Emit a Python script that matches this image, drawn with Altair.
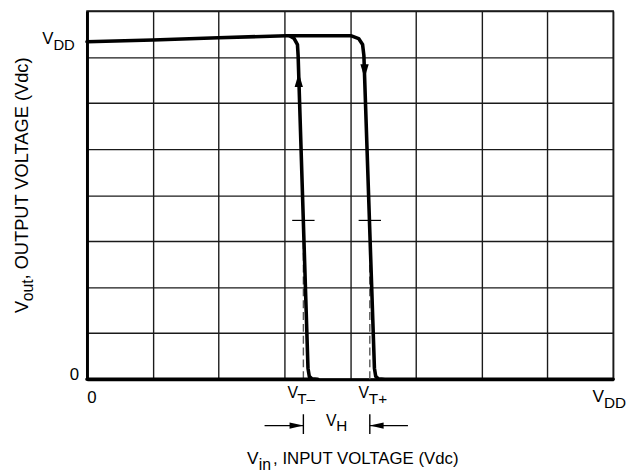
import altair as alt
import pandas as pd

FONT = "Liberation Sans, Arial, Helvetica, sans-serif"

# grid lines (both axes are in "grid units", 8 divisions each)
grid_vals = [0, 1, 2, 3, 4, 5, 6, 7, 8]

# threshold voltages (x, grid units) and the level of the little cross marks (y)
VT_MINUS = 3.29
VT_PLUS = 4.30
MARK_LEVEL = 3.45
MARK_HALF = 0.17

# output-high branch (Vin rising): stays at VDD, drops at VT+, then stays at 0
high_u = [0.0, 1.0, 2.0, 3.03, 4.02, 4.13, 4.19, 4.21, 4.37, 4.39, 4.43, 4.53, 8.0]
high_v = [7.33, 7.37, 7.42, 7.46, 7.46, 7.40, 7.27, 7.03, 0.24, 0.06, 0.01, 0.0, 0.0]

# output-low branch (Vin falling): stays at 0, rises at VT-, joins VDD
rise_u = [0.0, 3.51, 3.42, 3.38, 3.36, 3.21, 3.20, 3.15, 3.08]
rise_v = [0.0, 0.0, 0.01, 0.06, 0.24, 7.03, 7.27, 7.40, 7.46]

# arrowheads on the curve
arrow_up = {"u": [3.22], "v": [6.65]}
arrow_down = {"u": [4.22], "v": [6.54]}

# hysteresis dimension arrows below the axis (x start of each arrow line)
hyst_left_start = 2.70
hyst_right_start = 4.88

XS = alt.Scale(domain=[0, 8], nice=False, zero=False)
YS = alt.Scale(domain=[0, 8], nice=False, zero=False)
X_AX = alt.Axis(values=grid_vals, labels=False, ticks=False, title=None, grid=True,
                gridColor="#1a1a1a", gridWidth=1.4, gridOpacity=1,
                domainColor="black", domainWidth=3)
Y_AX = alt.Axis(values=grid_vals, labels=False, ticks=False, title=None, grid=True,
                gridColor="#1a1a1a", gridWidth=1.4, gridOpacity=1,
                domainColor="black", domainWidth=3)


def X(f="u"):
    return alt.X(f"{f}:Q", scale=XS, axis=X_AX)


def Y(f="v"):
    return alt.Y(f"{f}:Q", scale=YS, axis=Y_AX)


high_df = pd.DataFrame({"u": high_u, "v": high_v, "o": list(range(len(high_u)))})
rise_df = pd.DataFrame({"u": rise_u, "v": rise_v, "o": list(range(len(rise_u)))})

line_high = alt.Chart(high_df).mark_line(color="black", strokeWidth=3.6, strokeJoin="round",
                                         strokeCap="round").encode(x=X(), y=Y(), order="o:Q")
line_rise = alt.Chart(rise_df).mark_line(color="black", strokeWidth=3.6, strokeJoin="round",
                                         strokeCap="round").encode(x=X(), y=Y(), order="o:Q")

up_head = alt.Chart(pd.DataFrame(arrow_up)).mark_point(
    shape="M0,0L-0.3,1L0.3,1Z", size=784, filled=True, color="black", opacity=1, strokeWidth=0
).encode(x=X(), y=Y())
down_head = alt.Chart(pd.DataFrame(arrow_down)).mark_point(
    shape="M0,0L-0.3,-1L0.3,-1Z", size=784, filled=True, color="black", opacity=1, strokeWidth=0
).encode(x=X(), y=Y())

vt_df = pd.DataFrame({"u": [VT_MINUS, VT_PLUS], "v": [0.0, 0.0], "v2": [MARK_LEVEL, MARK_LEVEL],
                      "ul": [VT_MINUS - MARK_HALF, VT_PLUS - MARK_HALF],
                      "ur": [VT_MINUS + MARK_HALF, VT_PLUS + MARK_HALF]})
dashed = alt.Chart(vt_df).mark_rule(color="#555", strokeWidth=1.4, strokeDash=[8, 4]).encode(
    x=X(), y=Y(), y2="v2:Q")
marks = alt.Chart(vt_df).mark_rule(color="black", strokeWidth=1.2).encode(
    x=X("ul"), x2="ur:Q", y=Y("v2"))

# hysteresis dimension below axis (pixel rows relative to plot area)
bars = alt.Chart(vt_df).mark_rule(color="black", strokeWidth=1.4).encode(
    x=X(), y=alt.value(408.5), y2=alt.value(428.5))
hy_df = pd.DataFrame({"u": [hyst_left_start, hyst_right_start], "u2": [VT_MINUS, VT_PLUS]})
hy_lines = alt.Chart(hy_df).mark_rule(color="black", strokeWidth=1.4).encode(
    x=X(), x2="u2:Q", y=alt.value(420))
hy_head_r = alt.Chart(pd.DataFrame({"u": [VT_MINUS]})).mark_point(
    shape="M0,0L-2,-0.45L-2,0.45Z", size=196, filled=True, color="black", opacity=1, strokeWidth=0
).encode(x=X(), y=alt.value(420))
hy_head_l = alt.Chart(pd.DataFrame({"u": [VT_PLUS]})).mark_point(
    shape="M0,0L2,-0.45L2,0.45Z", size=196, filled=True, color="black", opacity=1, strokeWidth=0
).encode(x=X(), y=alt.value(420))

# text labels: (text, x px, y px, font size, angle, align)
labels = [
    ("V", -45.3, 33, 17, 0, "left"),
    ("DD", -34, 39.5, 15, 0, "left"),
    ("0", -8, 373.5, 17, 0, "right"),
    ("0", 5, 397.5, 17, 0, "center"),
    ("V", 203, 392, 16, 0, "left"),
    ("T\u2013", 213, 398, 15.5, 0, "left"),
    ("V", 275, 392, 16, 0, "left"),
    ("T+", 285.5, 398, 15.5, 0, "left"),
    ("V", 512, 396.5, 17.5, 0, "left"),
    ("DD", 523.7, 402.5, 15.5, 0, "left"),
    ("V", 242, 420, 16, 0, "left"),
    ("H", 252.5, 425.5, 15.5, 0, "left"),
    ("V", 162, 459, 17.5, 0, "left"),
    ("in", 174, 465, 16, 0, "left"),
    (", INPUT VOLTAGE (Vdc)", 188.5, 459, 17, 0, "left"),
    ("V", -60, 306, 18.5, 270, "left"),
    ("out", -55, 294, 16, 270, "left"),
    (", OUTPUT VOLTAGE (Vdc)", -60, 272, 18.5, 270, "left"),
]

text_layers = []
for t, px, py, fs, ang, al in labels:
    text_layers.append(
        alt.Chart(pd.DataFrame({"t": [t]})).mark_text(
            font=FONT, fontSize=fs, angle=ang, align=al, baseline="alphabetic", color="black"
        ).encode(text="t:N", x=alt.value(px), y=alt.value(py))
    )

chart = alt.layer(
    dashed, marks, line_high, line_rise, up_head, down_head,
    bars, hy_lines, hy_head_r, hy_head_l, *text_layers
).properties(
    width=533, height=373,
    autosize=alt.AutoSizeParams(type="none"),
    padding={"left": 80, "top": 0, "right": 14, "bottom": 92},
    background="white",
).configure_view(stroke="#1a1a1a", strokeWidth=1.5)

chart.save("out.html", embed_options={"renderer": "svg", "actions": False})
